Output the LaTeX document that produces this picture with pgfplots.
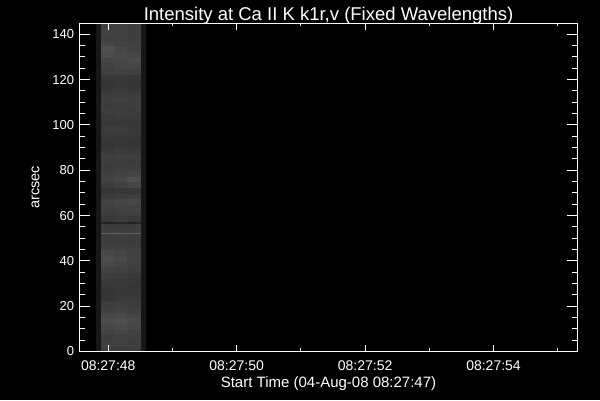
\documentclass[border=0pt]{standalone}
\usepackage{pgfplots}
\pgfplotsset{compat=1.18}
\usepackage{fontspec}
\setmainfont{Liberation Sans}
\begin{document}
\begin{tikzpicture}
\fill[black] (-80pt,-48.5pt) rectangle (520pt,351.5pt);
\begin{axis}[
  scale only axis, width=497pt, height=328.5pt,
  at={(0pt,0pt)}, anchor=south west,
  xmin=0.56, xmax=8.30, ymin=0, ymax=145,
  axis on top,
  axis line style={white, line width=1pt},
  tick style={white, line width=1pt},
  major tick length=10pt, minor tick length=5pt,
  xtick style={/pgfplots/major tick length=6.5pt, /pgfplots/minor tick length=3.3pt},
  xtick={1,3,5,7},
  xticklabels={08:27:48,08:27:50,08:27:52,08:27:54},
  minor xtick={2,4,6,8},
  ytick={0,20,...,140},
  minor y tick num=3,
  /pgf/number format/assume math mode=true,
  xticklabel style={white, font=\fontsize{14}{16}\selectfont, anchor=base, yshift=-19pt, inner sep=0pt},
  yticklabel style={white, font=\fontsize{13}{15}\selectfont, anchor=east, xshift=-5.7pt, inner sep=0pt},
  every axis title/.style={at={(rel axis cs:0.5,1)}, anchor=base, yshift=2.5pt, white, font=\fontsize{18.5}{21}\selectfont, inner sep=0pt},
  every axis x label/.style={at={(rel axis cs:0.5,0)}, anchor=base, yshift=-35.5pt, white, font=\fontsize{15}{17}\selectfont, inner sep=0pt},
  every axis y label/.style={at={(rel axis cs:0,0.5)}, xshift=-40.7pt, rotate=90, anchor=base, white, font=\fontsize{14.5}{17}\selectfont, inner sep=0pt},
  title={Intensity at Ca II K k1r,v (Fixed Wavelengths)},
  xlabel={Start Time (04-Aug-08 08:27:47)},
  ylabel={arcsec},
  colormap/blackwhite,
  point meta min=0, point meta max=1.12,
]
\addplot[surf, shader=flat corner, mesh/cols=6, point meta=explicit] coordinates {
(0.81,0)[0.10] (0.887,0)[0.27] (1.095,0)[0.27] (1.30,0)[0.26] (1.51,0)[0.10] (1.572,0)[0.10]
(0.81,2.5)[0.10] (0.887,2.5)[0.28] (1.095,2.5)[0.28] (1.30,2.5)[0.27] (1.51,2.5)[0.10] (1.572,2.5)[0.10]
(0.81,5)[0.10] (0.887,5)[0.27] (1.095,5)[0.28] (1.30,5)[0.28] (1.51,5)[0.10] (1.572,5)[0.10]
(0.81,7.5)[0.10] (0.887,7.5)[0.29] (1.095,7.5)[0.30] (1.30,7.5)[0.29] (1.51,7.5)[0.10] (1.572,7.5)[0.10]
(0.81,10)[0.10] (0.887,10)[0.31] (1.095,10)[0.32] (1.30,10)[0.31] (1.51,10)[0.10] (1.572,10)[0.10]
(0.81,12.5)[0.10] (0.887,12.5)[0.33] (1.095,12.5)[0.34] (1.30,12.5)[0.32] (1.51,12.5)[0.10] (1.572,12.5)[0.10]
(0.81,15)[0.10] (0.887,15)[0.31] (1.095,15)[0.32] (1.30,15)[0.30] (1.51,15)[0.10] (1.572,15)[0.10]
(0.81,17.5)[0.10] (0.887,17.5)[0.28] (1.095,17.5)[0.29] (1.30,17.5)[0.28] (1.51,17.5)[0.10] (1.572,17.5)[0.10]
(0.81,20)[0.10] (0.887,20)[0.26] (1.095,20)[0.27] (1.30,20)[0.26] (1.51,20)[0.10] (1.572,20)[0.10]
(0.81,22.5)[0.10] (0.887,22.5)[0.24] (1.095,22.5)[0.25] (1.30,22.5)[0.25] (1.51,22.5)[0.10] (1.572,22.5)[0.10]
(0.81,25)[0.10] (0.887,25)[0.23] (1.095,25)[0.24] (1.30,25)[0.24] (1.51,25)[0.10] (1.572,25)[0.10]
(0.81,27.5)[0.10] (0.887,27.5)[0.24] (1.095,27.5)[0.25] (1.30,27.5)[0.23] (1.51,27.5)[0.10] (1.572,27.5)[0.10]
(0.81,30)[0.10] (0.887,30)[0.25] (1.095,30)[0.25] (1.30,30)[0.24] (1.51,30)[0.10] (1.572,30)[0.10]
(0.81,32.5)[0.10] (0.887,32.5)[0.27] (1.095,32.5)[0.26] (1.30,32.5)[0.25] (1.51,32.5)[0.10] (1.572,32.5)[0.10]
(0.81,35)[0.10] (0.887,35)[0.29] (1.095,35)[0.28] (1.30,35)[0.27] (1.51,35)[0.10] (1.572,35)[0.10]
(0.81,37.5)[0.10] (0.887,37.5)[0.31] (1.095,37.5)[0.30] (1.30,37.5)[0.28] (1.51,37.5)[0.10] (1.572,37.5)[0.10]
(0.81,40)[0.10] (0.887,40)[0.33] (1.095,40)[0.32] (1.30,40)[0.29] (1.51,40)[0.10] (1.572,40)[0.10]
(0.81,42.5)[0.10] (0.887,42.5)[0.32] (1.095,42.5)[0.30] (1.30,42.5)[0.28] (1.51,42.5)[0.10] (1.572,42.5)[0.10]
(0.81,45)[0.10] (0.887,45)[0.28] (1.095,45)[0.28] (1.30,45)[0.27] (1.51,45)[0.10] (1.572,45)[0.10]
(0.81,47.5)[0.10] (0.887,47.5)[0.27] (1.095,47.5)[0.27] (1.30,47.5)[0.26] (1.51,47.5)[0.10] (1.572,47.5)[0.10]
(0.81,50)[0.10] (0.887,50)[0.26] (1.095,50)[0.27] (1.30,50)[0.26] (1.51,50)[0.10] (1.572,50)[0.10]
(0.81,52)[0.10] (0.887,52)[0.42] (1.095,52)[0.42] (1.30,52)[0.42] (1.51,52)[0.10] (1.572,52)[0.10]
(0.81,52.6)[0.10] (0.887,52.6)[0.27] (1.095,52.6)[0.27] (1.30,52.6)[0.27] (1.51,52.6)[0.10] (1.572,52.6)[0.10]
(0.81,55)[0.10] (0.887,55)[0.26] (1.095,55)[0.26] (1.30,55)[0.26] (1.51,55)[0.10] (1.572,55)[0.10]
(0.81,56.6)[0.10] (0.887,56.6)[0.16] (1.095,56.6)[0.16] (1.30,56.6)[0.16] (1.51,56.6)[0.10] (1.572,56.6)[0.10]
(0.81,57.3)[0.10] (0.887,57.3)[0.25] (1.095,57.3)[0.26] (1.30,57.3)[0.25] (1.51,57.3)[0.10] (1.572,57.3)[0.10]
(0.81,60)[0.10] (0.887,60)[0.26] (1.095,60)[0.27] (1.30,60)[0.27] (1.51,60)[0.10] (1.572,60)[0.10]
(0.81,62.5)[0.10] (0.887,62.5)[0.28] (1.095,62.5)[0.29] (1.30,62.5)[0.29] (1.51,62.5)[0.10] (1.572,62.5)[0.10]
(0.81,65)[0.10] (0.887,65)[0.29] (1.095,65)[0.30] (1.30,65)[0.31] (1.51,65)[0.10] (1.572,65)[0.10]
(0.81,67.5)[0.10] (0.887,67.5)[0.26] (1.095,67.5)[0.27] (1.30,67.5)[0.27] (1.51,67.5)[0.10] (1.572,67.5)[0.10]
(0.81,70)[0.10] (0.887,70)[0.23] (1.095,70)[0.24] (1.30,70)[0.24] (1.51,70)[0.10] (1.572,70)[0.10]
(0.81,72.5)[0.10] (0.887,72.5)[0.26] (1.095,72.5)[0.28] (1.30,72.5)[0.30] (1.51,72.5)[0.10] (1.572,72.5)[0.10]
(0.81,75)[0.10] (0.887,75)[0.29] (1.095,75)[0.31] (1.30,75)[0.34] (1.51,75)[0.10] (1.572,75)[0.10]
(0.81,77.5)[0.10] (0.887,77.5)[0.28] (1.095,77.5)[0.29] (1.30,77.5)[0.30] (1.51,77.5)[0.10] (1.572,77.5)[0.10]
(0.81,80)[0.10] (0.887,80)[0.26] (1.095,80)[0.27] (1.30,80)[0.27] (1.51,80)[0.10] (1.572,80)[0.10]
(0.81,82.5)[0.10] (0.887,82.5)[0.27] (1.095,82.5)[0.27] (1.30,82.5)[0.26] (1.51,82.5)[0.10] (1.572,82.5)[0.10]
(0.81,85)[0.10] (0.887,85)[0.27] (1.095,85)[0.28] (1.30,85)[0.27] (1.51,85)[0.10] (1.572,85)[0.10]
(0.81,87.5)[0.10] (0.887,87.5)[0.25] (1.095,87.5)[0.26] (1.30,87.5)[0.25] (1.51,87.5)[0.10] (1.572,87.5)[0.10]
(0.81,90)[0.10] (0.887,90)[0.23] (1.095,90)[0.24] (1.30,90)[0.23] (1.51,90)[0.10] (1.572,90)[0.10]
(0.81,92.5)[0.10] (0.887,92.5)[0.24] (1.095,92.5)[0.24] (1.30,92.5)[0.23] (1.51,92.5)[0.10] (1.572,92.5)[0.10]
(0.81,95)[0.10] (0.887,95)[0.25] (1.095,95)[0.25] (1.30,95)[0.25] (1.51,95)[0.10] (1.572,95)[0.10]
(0.81,97.5)[0.10] (0.887,97.5)[0.26] (1.095,97.5)[0.26] (1.30,97.5)[0.25] (1.51,97.5)[0.10] (1.572,97.5)[0.10]
(0.81,100)[0.10] (0.887,100)[0.24] (1.095,100)[0.25] (1.30,100)[0.24] (1.51,100)[0.10] (1.572,100)[0.10]
(0.81,102.5)[0.10] (0.887,102.5)[0.25] (1.095,102.5)[0.26] (1.30,102.5)[0.25] (1.51,102.5)[0.10] (1.572,102.5)[0.10]
(0.81,105)[0.10] (0.887,105)[0.27] (1.095,105)[0.27] (1.30,105)[0.26] (1.51,105)[0.10] (1.572,105)[0.10]
(0.81,107.5)[0.10] (0.887,107.5)[0.26] (1.095,107.5)[0.27] (1.30,107.5)[0.27] (1.51,107.5)[0.10] (1.572,107.5)[0.10]
(0.81,110)[0.10] (0.887,110)[0.27] (1.095,110)[0.28] (1.30,110)[0.27] (1.51,110)[0.10] (1.572,110)[0.10]
(0.81,112.5)[0.10] (0.887,112.5)[0.26] (1.095,112.5)[0.26] (1.30,112.5)[0.26] (1.51,112.5)[0.10] (1.572,112.5)[0.10]
(0.81,115)[0.10] (0.887,115)[0.24] (1.095,115)[0.25] (1.30,115)[0.24] (1.51,115)[0.10] (1.572,115)[0.10]
(0.81,117.5)[0.10] (0.887,117.5)[0.23] (1.095,117.5)[0.24] (1.30,117.5)[0.23] (1.51,117.5)[0.10] (1.572,117.5)[0.10]
(0.81,120)[0.10] (0.887,120)[0.25] (1.095,120)[0.25] (1.30,120)[0.24] (1.51,120)[0.10] (1.572,120)[0.10]
(0.81,122.5)[0.10] (0.887,122.5)[0.27] (1.095,122.5)[0.28] (1.30,122.5)[0.28] (1.51,122.5)[0.10] (1.572,122.5)[0.10]
(0.81,125)[0.10] (0.887,125)[0.29] (1.095,125)[0.30] (1.30,125)[0.31] (1.51,125)[0.10] (1.572,125)[0.10]
(0.81,127.5)[0.10] (0.887,127.5)[0.30] (1.095,127.5)[0.31] (1.30,127.5)[0.33] (1.51,127.5)[0.10] (1.572,127.5)[0.10]
(0.81,130)[0.10] (0.887,130)[0.33] (1.095,130)[0.32] (1.30,130)[0.31] (1.51,130)[0.10] (1.572,130)[0.10]
(0.81,132.5)[0.10] (0.887,132.5)[0.35] (1.095,132.5)[0.31] (1.30,132.5)[0.29] (1.51,132.5)[0.10] (1.572,132.5)[0.10]
(0.81,135)[0.10] (0.887,135)[0.30] (1.095,135)[0.29] (1.30,135)[0.28] (1.51,135)[0.10] (1.572,135)[0.10]
(0.81,137.5)[0.10] (0.887,137.5)[0.28] (1.095,137.5)[0.28] (1.30,137.5)[0.27] (1.51,137.5)[0.10] (1.572,137.5)[0.10]
(0.81,140)[0.10] (0.887,140)[0.29] (1.095,140)[0.28] (1.30,140)[0.27] (1.51,140)[0.10] (1.572,140)[0.10]
(0.81,142.5)[0.10] (0.887,142.5)[0.28] (1.095,142.5)[0.28] (1.30,142.5)[0.27] (1.51,142.5)[0.10] (1.572,142.5)[0.10]
(0.81,145)[0.10] (0.887,145)[0.28] (1.095,145)[0.28] (1.30,145)[0.27] (1.51,145)[0.10] (1.572,145)[0.10]
};
\end{axis}
\end{tikzpicture}
\end{document}
